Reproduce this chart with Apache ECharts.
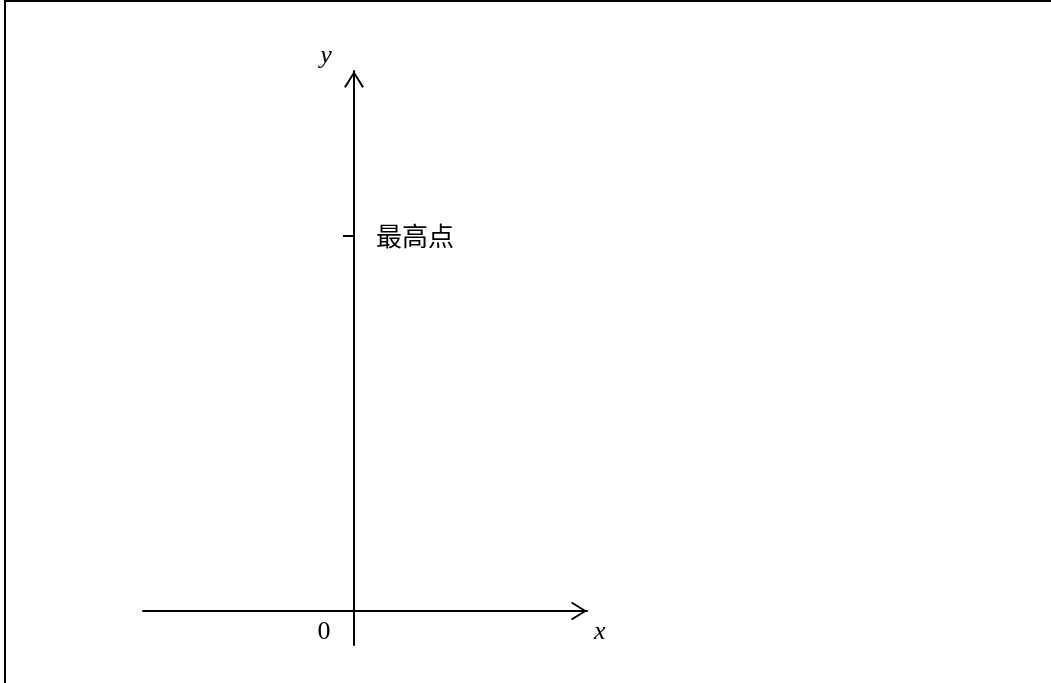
<!DOCTYPE html>
<html>
<head>
<meta charset="utf-8">
<style>
  html, body { margin: 0; padding: 0; background: #fff; }
  #main { position: absolute; left: 0; top: 0; width: 1051px; height: 683px; }
  .frame { position: absolute; left: 4px; top: 0; width: 1051px; height: 683px;
           border-left: 2px solid #000; border-top: 2px solid #000; pointer-events: none; }
</style>
<script src="https://cdn.jsdelivr.net/npm/echarts@6/dist/echarts.min.js"></script>
</head>
<body>
<div id="main"></div>
<div class="frame"></div>
<script>
// 坐标范围（只画坐标轴，没有曲线）
var xRange = [-2.11, 2.33]
var yRange = [-0.34, 5.40]
// y轴上的刻度：最高点
var yTickValues = [3.75]
var yTickLabels = ['最高点']
// 原点标签
var xTickValues = [0]
var xTickLabels = ['0']

// 空心箭头
var arrow = 'path://M50 0 L100 80 L92 86 L50 18 L8 86 L0 80 Z'

var myCharts = echarts.init(document.getElementById('main'))

var option = {
    animation: false,
    grid: {
        left: 143,
        right: 464,
        top: 71,
        bottom: 38
    },
    xAxis: {
        type: 'value',
        min: xRange[0],
        max: xRange[1],
        position: 'bottom',
        //把x轴移到y=0处
        offset: -34,
        name: 'x',
        nameLocation: 'end',
        nameGap: 7,
        nameTextStyle: {
            color: '#000',
            fontFamily: 'Liberation Serif',
            fontStyle: 'italic',
            fontSize: 26,
            verticalAlign: 'top',
            padding: [8, 0, 0, 0]
        },
        axisLine: {
            onZero: false,
            symbol: ['none', arrow],
            symbolSize: [19, 16],
            symbolOffset: [0, -8],
            lineStyle: { color: '#000', width: 2 }
        },
        axisTick: { show: false },
        splitLine: { show: false },
        axisLabel: {
            customValues: xTickValues,
            margin: 8,
            formatter: function (v) {
                return '{o|' + xTickLabels[xTickValues.indexOf(v)] + '}'
            },
            rich: {
                o: {
                    color: '#000',
                    fontFamily: 'Liberation Serif',
                    fontSize: 26,
                    padding: [0, 60, 0, 0]
                }
            }
        }
    },
    yAxis: {
        type: 'value',
        min: yRange[0],
        max: yRange[1],
        position: 'left',
        //把y轴移到x=0处
        offset: -211,
        name: 'y',
        nameLocation: 'end',
        nameGap: 2,
        nameTextStyle: {
            color: '#000',
            fontFamily: 'Liberation Serif',
            fontStyle: 'italic',
            fontSize: 26,
            padding: [0, 56, 0, 0]
        },
        axisLine: {
            onZero: false,
            symbol: ['none', arrow],
            symbolSize: [20, 17],
            symbolOffset: [0, -8.5],
            lineStyle: { color: '#000', width: 2 }
        },
        axisTick: {
            customValues: yTickValues,
            length: 11,
            lineStyle: { color: '#000', width: 2 }
        },
        splitLine: { show: false },
        axisLabel: {
            customValues: yTickValues,
            inside: true,
            margin: 22,
            color: '#000',
            fontFamily: 'Noto Sans CJK SC',
            fontSize: 26,
            formatter: function (v) {
                return yTickLabels[yTickValues.indexOf(v)]
            }
        }
    },
    series: []
}

myCharts.setOption(option)

window.addEventListener('resize', function () {
    myCharts.resize()
})
</script>
</body>
</html>
